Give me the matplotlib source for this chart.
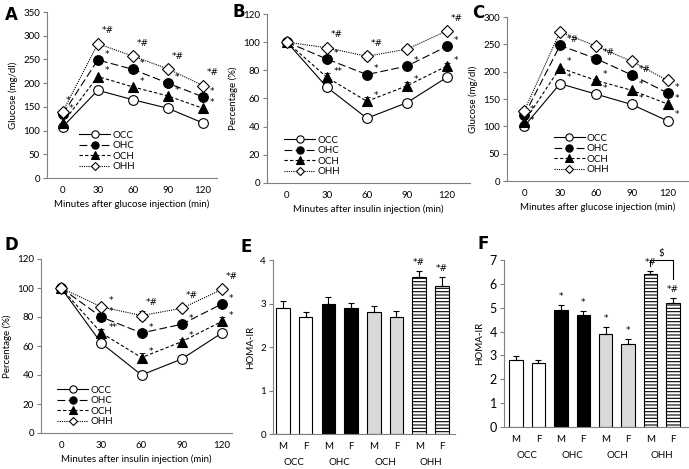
import numpy as np
import matplotlib.pyplot as plt

plt.rcParams['font.family'] = ['Lato', 'DejaVu Sans']
plt.rcParams['font.size'] = 7
plt.rcParams['hatch.linewidth'] = 0.8

W, H = 689, 469

# data
minutes = ['0', '30', '60', '90', '120']
groups = ['OCC', 'OHC', 'OCH', 'OHH']

glu_a = {'OCC': [108, 185, 165, 147, 116],
         'OHC': [135, 249, 229, 200, 171],
         'OCH': [116, 214, 192, 173, 147],
         'OHH': [140, 283, 257, 230, 195]}
ins_b = {'OCC': [100, 68, 46, 57, 75],
         'OHC': [100, 88, 77, 83, 97],
         'OCH': [100, 75, 58, 69, 83],
         'OHH': [100, 96, 90, 95, 108]}
ins_b_err = {'OCC': [0, 1, 1, 1, 1],
             'OHC': [0, 2, 2, 2, 2],
             'OCH': [0, 3, 3, 3, 2],
             'OHH': [0, 2, 3, 1, 2]}
glu_c = {'OCC': [100, 178, 159, 140, 110],
         'OHC': [120, 248, 224, 194, 161],
         'OCH': [108, 207, 184, 166, 141],
         'OHH': [128, 273, 247, 219, 184]}
ins_d = {'OCC': [100, 62, 40, 51, 69],
         'OHC': [100, 80, 69, 75, 89],
         'OCH': [100, 69, 52, 63, 77],
         'OHH': [100, 87, 81, 86, 99]}
ins_d_err = {'OCC': [0, 1, 1, 1, 1],
             'OHC': [0, 2, 2, 2, 2],
             'OCH': [0, 3, 3, 2, 3],
             'OHH': [0, 2, 3, 2, 2]}

sex = ['M', 'F'] * 4
homa_e = [2.9, 2.7, 3.0, 2.9, 2.8, 2.7, 3.6, 3.4]
homa_e_err = [0.15, 0.1, 0.15, 0.12, 0.15, 0.13, 0.15, 0.2]
homa_f = [2.8, 2.7, 4.9, 4.7, 3.9, 3.5, 6.4, 5.2]
homa_f_err = [0.18, 0.12, 0.2, 0.15, 0.3, 0.2, 0.15, 0.2]

# significance marks: (time index, group, text)
marks_a = [(0, 'OHH', '*'), (0, 'OHC', '*')] + \
    [(i, 'OHH', '*#') for i in range(1, 5)] + \
    [(i, g, '*') for i in range(1, 5) for g in ['OHC', 'OCH']]
marks_b = [(1, 'OHH', '*#'), (1, 'OHC', '*'), (1, 'OCH', '**'),
           (2, 'OHH', '*#'), (2, 'OHC', '*'), (2, 'OCH', '*'),
           (3, 'OHC', '*'), (3, 'OCH', '*'),
           (4, 'OHH', '*#'), (4, 'OHC', '*'), (4, 'OCH', '*')]
marks_c = [(0, 'OHC', '*'), (0, 'OCC', '*'),
           (1, 'OHC', '*#'), (2, 'OHC', '*#'), (3, 'OHC', '*#'), (4, 'OHC', '*')] + \
    [(i, g, '*') for i in range(1, 5) for g in ['OCH', 'OCC']]
marks_d = [(1, 'OHH', '*'), (1, 'OHC', '*'), (1, 'OCH', '**'),
           (2, 'OHH', '*#'), (2, 'OHC', '*'), (2, 'OCH', '*'),
           (3, 'OHH', '*#'), (3, 'OHC', '*'), (3, 'OCH', '*'),
           (4, 'OHH', '*#'), (4, 'OHC', '*'), (4, 'OCH', '*')]
marks_e = ['', '', '', '', '', '', '*#', '*#']
marks_f = ['', '', '*', '*', '*', '*', '*#', '*#']

styles = {'OCC': dict(ls='-', marker='o', mfc='white', ms=7),
          'OHC': dict(ls=(0, (7, 3)), marker='o', mfc='black', ms=7),
          'OCH': dict(ls=(0, (3, 2)), marker='^', mfc='black', ms=7.5),
          'OHH': dict(ls=(0, (1, 1)), marker='D', mfc='white', ms=6)}

fig = plt.figure(figsize=(W / 100, H / 100), dpi=100)


def ax_px(left, top, right, bottom):
    return fig.add_axes([left / W, 1 - bottom / H, (right - left) / W, (bottom - top) / H])


def style_ax(ax):
    for s in ['top', 'right']:
        ax.spines[s].set_visible(False)
    for s in ['left', 'bottom']:
        ax.spines[s].set_color('#808080')
        ax.spines[s].set_linewidth(0.8)
    ax.tick_params(axis='y', length=3, color='#808080', width=0.8, pad=2)
    ax.tick_params(axis='x', length=0, pad=6)


def star(ax, t, xy, off, ha='left'):
    ax.annotate(t, xy, xytext=off, textcoords='offset points', fontsize=6.5,
                family='DejaVu Sans', ha=ha, va='bottom', annotation_clip=False)


def line_panel(ax, data, ylim, yticks, ylabel, xlabel, marks, err=None, xl=(-0.45, 4.35), leg_loc=(0.12, 0.02)):
    x = np.arange(len(minutes))
    for g in groups:
        st = styles[g]
        if err:
            ax.errorbar(x, data[g], yerr=err[g], fmt='none', ecolor='black', elinewidth=0.6,
                        capsize=2, capthick=0.6)
        ax.plot(x, data[g], color='black', lw=0.8, ls=st['ls'], marker=st['marker'],
                mfc=st['mfc'], mec='black', mew=0.8, ms=st['ms'], label=g)
    for i, g, t in marks:
        if t == '*#' and g == 'OHH':
            off = (3, 6)
        elif i == 0:
            off = (4, 1) if g != 'OHH' else (2, 5)
        else:
            off = (5, 1)
        star(ax, t, (x[i], data[g][i]), off)
    ax.set_xlim(*xl)
    ax.set_ylim(*ylim)
    ax.set_yticks(yticks)
    ax.set_xticks(x)
    ax.set_xticklabels(minutes)
    ax.set_ylabel(ylabel)
    ax.set_xlabel(xlabel, labelpad=3)
    style_ax(ax)
    ax.legend(loc='lower left', bbox_to_anchor=leg_loc, frameon=False, fontsize=7, markerscale=0.75,
              handlelength=3.2, handletextpad=0.2, labelspacing=0.15, borderpad=0.2)


axA = ax_px(47, 12, 217, 178)
line_panel(axA, glu_a, (0, 350), range(0, 351, 50), 'Glucose (mg/dl)',
           'Minutes after glucose injection (min)', marks_a, xl=(-0.45, 4.4), leg_loc=(0.15, 0.0))

axB = ax_px(267, 14, 470, 183)
line_panel(axB, ins_b, (0, 120), range(0, 121, 20), 'Percentage (%)',
           'Minutes after insulin injection (min)', marks_b, err=ins_b_err, xl=(-0.5, 4.58),
           leg_loc=(0.05, 0.0))

axC = ax_px(507, 17, 689, 181)
line_panel(axC, glu_c, (0, 300), range(0, 301, 50), 'Glucose (mg/dl)',
           'Minutes after glucose injection (min)', marks_c, xl=(-0.48, 4.6), leg_loc=(0.22, 0.0))

axD = ax_px(41, 259, 232, 433)
line_panel(axD, ins_d, (0, 120), range(0, 121, 20), 'Percentage (%)',
           'Minutes after insulin injection (min)', marks_d, err=ins_d_err, xl=(-0.5, 4.25),
           leg_loc=(0.05, 0.0))

bar_fc = ['white', 'white', 'black', 'black', '#d9d9d9', '#d9d9d9', 'white', 'white']
bar_hatch = [None] * 6 + ['-----', '-----']


def bar_panel(ax, vals, errs, ylim, marks, xl):
    x = np.arange(len(vals))
    for i in range(len(vals)):
        ax.bar(x[i], vals[i], width=0.6, color=bar_fc[i], edgecolor='black', lw=0.8,
               hatch=bar_hatch[i])
        ax.errorbar(x[i], vals[i], yerr=[[0], [errs[i]]], color='black', lw=0.8,
                    capsize=2.5, capthick=0.8)
        if marks[i]:
            star(ax, marks[i], (x[i], vals[i] + errs[i]), (0, 3), ha='center')
    ax.set_xlim(*xl)
    ax.set_ylim(*ylim)
    ax.set_xticks(x)
    ax.set_xticklabels(sex)
    for j, g in enumerate(groups):
        ax.annotate(g, (2 * j + 0.5, 0), xytext=(0, -17), textcoords='offset points',
                    ha='center', va='top', fontsize=7, annotation_clip=False)
    ax.set_ylabel('HOMA-IR')
    style_ax(ax)
    return x


axE = ax_px(273, 260, 455, 434)
bar_panel(axE, homa_e, homa_e_err, (0, 4), marks_e, (-0.44, 7.58))
axE.set_yticks(range(0, 5))

axF = ax_px(504, 260, 689, 427)
xf = bar_panel(axF, homa_f, homa_f_err, (0, 7), marks_f, (-0.54, 7.72))
axF.set_yticks(range(0, 8))
axF.tick_params(axis='y', labelsize=9)
top = 7.0
axF.plot([xf[6], xf[6], xf[7], xf[7]], [6.75, top, top, 6.2], color='black', lw=0.8, clip_on=False)
axF.text((xf[6] + xf[7]) / 2, top + 0.1, '$', ha='center', va='bottom', fontsize=7)

for lbl, (px, py) in zip('ABCDEF', [(5, 6), (232, 3), (472, 4), (5, 236), (240, 238), (478, 235)]):
    fig.text(px / W, 1 - py / H, lbl, fontsize=12, fontweight='bold', family='DejaVu Sans',
             ha='left', va='top')

fig.savefig('out.png', dpi=100)
